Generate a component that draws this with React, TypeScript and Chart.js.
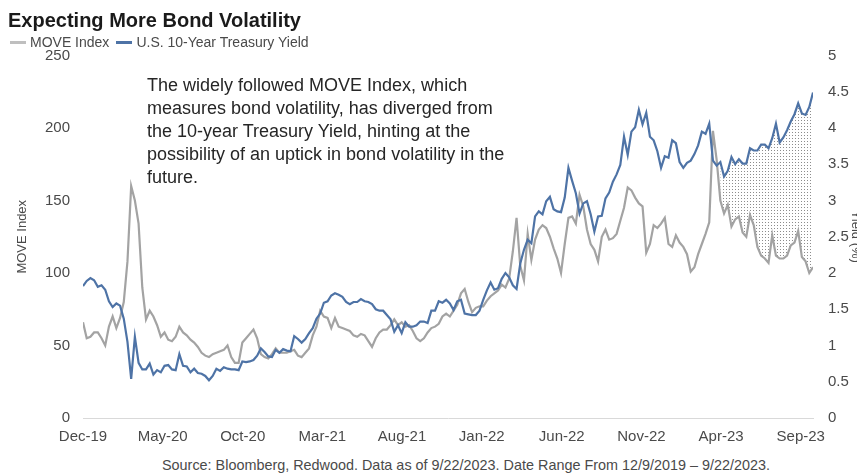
import React, { useEffect, useRef } from "react";
import { Chart, registerables } from "chart.js";

Chart.register(...registerables);

// ---------- data (weekly observations, 12/9/2019 – 9/22/2023) ----------
const xTickLabels = ["Dec-19", "May-20", "Oct-20", "Mar-21", "Aug-21", "Jan-22", "Jun-22", "Nov-22", "Apr-23", "Sep-23"];
const xTickWeeks = [0, 21.5, 43.1, 64.6, 86.1, 107.6, 129.2, 150.7, 172.2, 193.7];
const moveTicks = [0, 50, 100, 150, 200, 250];
const yieldTicks = [0, 0.5, 1, 1.5, 2, 2.5, 3, 3.5, 4, 4.5, 5];

const moveIndex = [
  66, 55, 56, 59, 59, 55, 50, 63, 70, 62,
  69, 80, 108, 160, 150, 134, 90, 68, 74, 70,
  64, 56, 59, 54, 53, 56, 63, 59, 57, 54,
  52, 49, 45, 43, 42, 44, 45, 46, 47, 50,
  42, 38, 38, 52, 55, 58, 61, 55, 44, 42,
  41, 44, 48, 45, 45, 45, 46, 47, 43, 42,
  45, 48, 57, 63, 74, 70, 69, 62, 69, 63,
  62, 61, 60, 57, 56, 58, 57, 53, 49, 55,
  59, 61, 61, 64, 68, 64, 66, 63, 64, 60,
  55, 53, 55, 59, 62, 63, 65, 70, 72, 70,
  74, 78, 86, 89, 80, 73, 76, 77, 77, 81,
  84, 86, 88, 92, 90, 96, 115, 138, 105, 95,
  127, 109, 123, 130, 133, 131, 125, 117, 110, 100,
  120, 138, 139, 134, 154, 146, 130, 120, 116, 108,
  125, 130, 123, 124, 127, 136, 145, 159, 157, 152,
  148, 146, 114, 120, 133, 131, 134, 138, 120, 118,
  126, 121, 118, 113, 101, 104, 113, 120, 127, 135,
  198, 178, 150, 141, 147, 132, 137, 139, 128, 125,
  140, 133, 118, 112, 110, 107, 126, 112, 110, 110,
  112, 119, 121, 129, 111, 108, 100, 104,
];

const treasuryYield = [
  1.82, 1.89, 1.93, 1.9, 1.81, 1.83, 1.77, 1.61, 1.53, 1.58,
  1.55, 1.37, 1.05, 0.54, 1.12, 0.76, 0.67, 0.67, 0.75, 0.6,
  0.66, 0.63, 0.72, 0.73, 0.67, 0.66, 0.88, 0.72, 0.71, 0.63,
  0.68, 0.62, 0.61, 0.58, 0.52, 0.58, 0.68, 0.65, 0.7, 0.68,
  0.67, 0.67, 0.66, 0.78, 0.77, 0.78, 0.8, 0.86, 0.96, 0.91,
  0.85, 0.84, 0.94, 0.9, 0.95, 0.93, 0.92, 1.13, 1.09, 1.04,
  1.09, 1.17, 1.24, 1.37, 1.44, 1.59, 1.61, 1.69, 1.72, 1.7,
  1.67, 1.6, 1.57, 1.6, 1.6, 1.64, 1.61, 1.6, 1.57, 1.5,
  1.48, 1.48, 1.42, 1.36, 1.19, 1.28, 1.17, 1.32, 1.26, 1.26,
  1.28, 1.33, 1.33, 1.31, 1.48, 1.48, 1.61, 1.59, 1.63, 1.58,
  1.49, 1.61, 1.63, 1.44, 1.43, 1.42, 1.42, 1.48, 1.63, 1.76,
  1.87, 1.77, 1.79, 1.92, 2.0, 1.94, 1.83, 1.78, 2.13, 2.32,
  2.46, 2.41, 2.78, 2.85, 2.81, 2.99, 3.05, 2.88, 2.85, 2.84,
  3.04, 3.45, 3.27, 3.1, 2.82, 2.96, 2.99, 2.81, 2.57, 2.78,
  2.79, 3.03, 3.11, 3.26, 3.36, 3.49, 3.88, 3.63, 3.95, 4.01,
  4.25, 4.05, 4.21, 3.88, 3.83, 3.68, 3.45, 3.61, 3.59, 3.83,
  3.79, 3.53, 3.45, 3.52, 3.55, 3.64, 3.76, 3.95, 3.92, 4.06,
  3.55, 3.48, 3.53, 3.33, 3.41, 3.6, 3.5, 3.57, 3.51, 3.51,
  3.72, 3.69, 3.69, 3.77, 3.77, 3.72, 3.86, 4.06, 3.8, 3.87,
  3.97, 4.09, 4.19, 4.34, 4.2, 4.18, 4.29, 4.49,
];

const shadeStartWeek = 172;

const GRAY = "#A3A3A3";
const BLUE = "#4E73A6";
const TEXT = "#4a4a4a";
const FONT = "'Liberation Sans', Arial, sans-serif";

export default function App() {
  const ref = useRef<HTMLCanvasElement>(null);

  useEffect(() => {
    const prevMb = document.body.style.marginBottom;
    document.body.style.marginBottom = "0px";
    const canvas = ref.current!;
    const pc = document.createElement("canvas");
    pc.width = 3;
    pc.height = 3;
    const pctx = pc.getContext("2d")!;
    pctx.fillStyle = "#8c8c8c";
    pctx.fillRect(1, 1, 1, 1);
    const pattern = canvas.getContext("2d")!.createPattern(pc, "repeat");

    const pts = (arr: number[]) => arr.map((v, i) => ({ x: i, y: v }));
    const shade = treasuryYield.map((v, i) => ({ x: i, y: i >= shadeStartWeek ? v : null }));

    const tickFont = { family: FONT, size: 15 };

    const chart = new Chart(canvas, {
      type: "line",
      data: {
        datasets: [
          {
            label: "MOVE Index",
            data: pts(moveIndex),
            yAxisID: "y",
            borderColor: GRAY,
            backgroundColor: GRAY,
            borderWidth: 2.2,
            pointRadius: 0,
            fill: false,
            order: 1,
          },
          {
            label: "U.S. 10-Year Treasury Yield",
            data: pts(treasuryYield),
            yAxisID: "y2",
            borderColor: BLUE,
            backgroundColor: BLUE,
            borderWidth: 2.2,
            pointRadius: 0,
            fill: false,
            order: 0,
          },
          {
            label: "",
            data: shade as any,
            yAxisID: "y2",
            borderColor: "rgba(0,0,0,0)",
            borderWidth: 0,
            backgroundColor: pattern as any,
            pointRadius: 0,
            fill: { target: 0 } as any,
            spanGaps: false,
            order: 2,
          },
        ],
      },
      options: {
        responsive: false,
        animation: false,
        layout: { padding: { top: 47.5, left: 0, right: 0, bottom: 0 } },
        plugins: {
          legend: { display: false },
          tooltip: { enabled: false },
          title: { display: false },
        },
        scales: {
          x: {
            type: "linear",
            min: 0,
            max: moveIndex.length - 1,
            afterBuildTicks: (s: any) => {
              s.ticks = xTickWeeks.map((v) => ({ value: v }));
            },
            afterFit: (s: any) => {
              s.height = 30;
            },
            grid: { display: false, drawTicks: false },
            border: { display: true, color: "#D9D9D9", width: 1 },
            ticks: {
              autoSkip: false,
              maxRotation: 0,
              padding: 10,
              color: TEXT,
              font: tickFont,
              callback: (_v: any, i: number) => xTickLabels[i],
            },
          },
          y: {
            type: "linear",
            position: "left",
            min: 0,
            max: 250,
            afterBuildTicks: (s: any) => {
              s.ticks = moveTicks.map((v) => ({ value: v }));
            },
            afterFit: (s: any) => {
              s.width = 75;
            },
            grid: { display: false, drawTicks: false },
            border: { display: false },
            ticks: { padding: 13, color: TEXT, font: tickFont, callback: (v: any) => String(v) },
            title: {
              display: true,
              text: "MOVE Index",
              color: TEXT,
              font: { family: FONT, size: 13, lineHeight: 1 },
              padding: { top: 7.5, bottom: 0 },
            },
          },
          y2: {
            type: "linear",
            position: "right",
            min: 0,
            max: 5,
            afterBuildTicks: (s: any) => {
              s.ticks = yieldTicks.map((v) => ({ value: v }));
            },
            afterFit: (s: any) => {
              s.width = 52;
            },
            grid: { display: false, drawTicks: false },
            border: { display: false },
            ticks: { padding: 15, color: TEXT, font: tickFont, callback: (v: any) => String(v) },
            title: {
              display: true,
              text: "Yield (%)",
              color: TEXT,
              font: { family: FONT, size: 13, lineHeight: 1 },
              padding: { top: 3, bottom: 0 },
            },
          },
        },
      } as any,
    });
    return () => {
      chart.destroy();
      document.body.style.marginBottom = prevMb;
    };
  }, []);

  const swatch = (c: string): React.CSSProperties => ({
    display: "inline-block",
    width: 16,
    height: 3,
    background: c,
    marginRight: 4,
  });

  return (
    <div style={{ position: "relative", width: 849, height: 467, fontFamily: FONT }}>
      <canvas
        ref={ref}
        width={857}
        height={440}
        style={{ position: "absolute", left: 0, top: 0, width: 857, height: 440 }}
      />
      <div
        style={{
          position: "absolute",
          left: 0,
          top: 0,
          fontSize: 20,
          lineHeight: "24px",
          fontWeight: "bold",
          color: "#1a1a1a",
          whiteSpace: "nowrap",
        }}
      >
        Expecting More Bond Volatility
      </div>
      <div
        style={{
          position: "absolute",
          left: 2,
          top: 26,
          fontSize: 14,
          lineHeight: "16px",
          color: TEXT,
          display: "flex",
          alignItems: "center",
          whiteSpace: "nowrap",
        }}
      >
        <span style={swatch("#BFBFBF")} />
        <span>MOVE Index</span>
        <span style={{ ...swatch(BLUE), marginLeft: 7 }} />
        <span>U.S. 10-Year Treasury Yield</span>
      </div>
      <div
        style={{
          position: "absolute",
          left: 139,
          top: 65.5,
          fontSize: 18,
          lineHeight: "23px",
          color: "#262626",
          whiteSpace: "pre",
        }}
      >
        {"The widely followed MOVE Index, which\nmeasures bond volatility, has diverged from\nthe 10-year Treasury Yield, hinting at the\npossibility of an uptick in bond volatility in the\nfuture."}
      </div>
      <div
        style={{
          position: "absolute",
          left: 458,
          top: 448,
          transform: "translateX(-50%)",
          fontSize: 14.4,
          lineHeight: "18px",
          color: TEXT,
          whiteSpace: "nowrap",
        }}
      >
        Source: Bloomberg, Redwood. Data as of 9/22/2023. Date Range From 12/9/2019 – 9/22/2023.
      </div>
    </div>
  );
}
